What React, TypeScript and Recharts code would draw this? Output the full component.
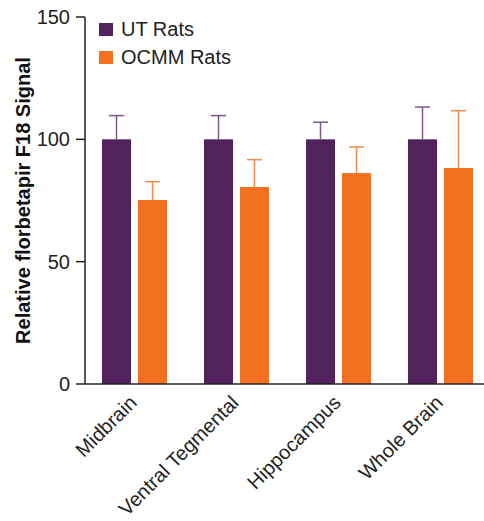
import React from 'react';
import { BarChart, Bar, XAxis, YAxis } from 'recharts';

const regions = ['Midbrain', 'Ventral Tegmental', 'Hippocampus', 'Whole Brain'];
const utRats = [100, 100, 100, 100];
const utError = [9.7, 9.7, 7, 13.2];
const ocmmRats = [75.2, 80.5, 86.2, 88.3];
const ocmmError = [7.5, 11.2, 10.7, 23.4];
const yTicks = [0, 50, 100, 150];

const PURPLE = '#51225E';
const ORANGE = '#F37021';
const FONT = '"Liberation Sans", Arial, sans-serif';

const data = regions.map((region, i) => ({
  region,
  ut: utRats[i],
  utErr: utError[i],
  ocmm: ocmmRats[i],
  ocmmErr: ocmmError[i],
}));

// bar with a one-sided (upper) error whisker, scaled from the bar's own pixel height
const barWithError = (errKey: string, errColor: string) => (props: any) => {
  const { x, y, width, height, fill, payload, value } = props;
  const v = Array.isArray(value) ? value[1] - value[0] : value;
  const perUnit = v ? height / v : 0;
  const top = y - payload[errKey] * perUnit;
  const cx = x + width / 2;
  return (
    <g>
      <rect x={x} y={y} width={width} height={height} fill={fill} />
      <line x1={cx} x2={cx} y1={y} y2={top} stroke={errColor} strokeWidth={1.5} />
      <line x1={cx - 7.5} x2={cx + 7.5} y1={top} y2={top} stroke={errColor} strokeWidth={1.5} />
    </g>
  );
};

const RegionTick = (props: any) => {
  const { x, y, payload } = props;
  const tx = x + 4;
  const ty = y + 20;
  return (
    <text
      x={tx}
      y={ty}
      transform={`rotate(-45 ${tx} ${ty})`}
      textAnchor="end"
      fontSize={20}
      fontFamily={FONT}
      fill="#222"
    >
      {payload.value}
    </text>
  );
};

const legendItems = [
  { label: 'UT Rats', color: PURPLE },
  { label: 'OCMM Rats', color: ORANGE },
];

export default function App() {
  return (
    <div style={{ position: 'absolute', left: 0, top: 0, width: 484, height: 521, overflow: 'hidden', background: '#fff' }}>
      <BarChart
        width={491}
        height={521}
        data={data}
        margin={{ top: 17, right: 0, bottom: 0, left: 0 }}
        barSize={29}
        barGap={7}
      >
        <XAxis
          dataKey="region"
          height={137}
          padding={{ left: -2, right: 0 }}
          tickLine={false}
          tickSize={0}
          tickMargin={0}
          axisLine={{ stroke: '#222', strokeWidth: 1.5 }}
          tick={<RegionTick />}
          interval={0}
        />
        <YAxis
          width={85}
          domain={[0, 150]}
          ticks={yTicks}
          tickSize={9}
          tickMargin={6}
          axisLine={{ stroke: '#222', strokeWidth: 1.5 }}
          tickLine={{ stroke: '#222', strokeWidth: 1.5 }}
          tick={{ fontSize: 20, fill: '#222', fontFamily: FONT }}
          label={{
            value: 'Relative florbetapir F18 Signal',
            angle: -90,
            position: 'center',
            dx: -20,
            style: { fontSize: 20, fontWeight: 'bold', fill: '#111', fontFamily: FONT, textAnchor: 'middle' },
          }}
        />
        <Bar dataKey="ut" fill={PURPLE} isAnimationActive={false} shape={barWithError('utErr', '#7A5889')} />
        <Bar dataKey="ocmm" fill={ORANGE} isAnimationActive={false} shape={barWithError('ocmmErr', '#F58A4A')} />
      </BarChart>
      <div style={{ position: 'absolute', left: 99, top: 16, fontFamily: FONT, fontSize: 20, color: '#222' }}>
        {legendItems.map((item) => (
          <div key={item.label} style={{ display: 'flex', alignItems: 'center', height: 27.5 }}>
            <span style={{ display: 'inline-block', width: 14, height: 13, background: item.color, marginRight: 8 }} />
            <span>{item.label}</span>
          </div>
        ))}
      </div>
    </div>
  );
}
